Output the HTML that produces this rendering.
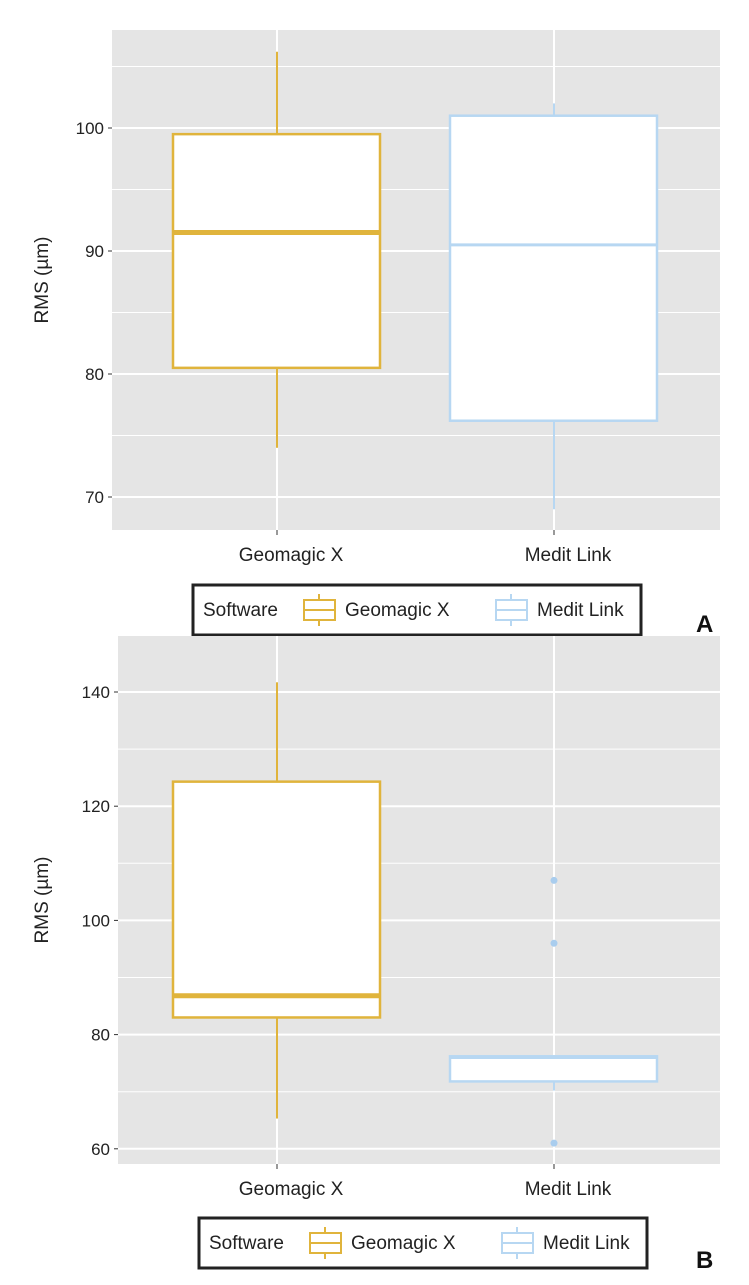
<!DOCTYPE html>
<html><head><meta charset="utf-8"><style>
body{margin:0;background:#fff;font-family:"Liberation Sans",sans-serif}
svg text{font-family:"Liberation Sans",sans-serif}
</style></head><body>
<svg id="s" width="749" height="1280"></svg>
<script>
const categories=["Geomagic X","Medit Link"];
const colors=["#e0b43c","#b7d7f2"];
// Panel A
const aTicks=[70,80,90,100];
const aLow=[74,69], aQ1=[80.5,76.2], aMed=[91.5,90.5], aQ3=[99.5,101], aHigh=[106.2,102];
const aOut=[[],[]];
// Panel B
const bTicks=[60,80,100,120,140];
const bLow=[65.3,70.2], bQ1=[83,71.8], bMed=[86.8,76], bQ3=[124.3,76.2], bHigh=[141.7,76.2];
const bOut=[[],[107,96,61]];

const S=document.getElementById('s');const NS='http://www.w3.org/2000/svg';
function mk(t,a,p,txt){const e=document.createElementNS(NS,t);for(const k in a)e.setAttribute(k,a[k]);if(txt!==undefined)e.textContent=txt;(p||S).appendChild(e);return e;}
function panel(cfg){
  const g=mk('g',{});
  
  
  const y=v=>cfg.y0-(v-cfg.v0)*cfg.k;
  const xs=[277,554];
  const bg=mk('rect',{x:cfg.L,y:cfg.T,width:cfg.R-cfg.L,height:cfg.B-cfg.T,fill:'#e5e5e5'},g);
  
  const step=cfg.ticks[1]-cfg.ticks[0];
  for(let v=cfg.ticks[0]-step;v<=cfg.ticks[cfg.ticks.length-1]+step;v+=step/2){
    const yy=y(v);if(yy<cfg.T||yy>cfg.B)continue;
    const major=cfg.ticks.includes(v);
    const l=mk('line',{x1:cfg.L,x2:cfg.R,y1:yy,y2:yy,stroke:'#fff','stroke-width':major?2:1},g);
    
  }
  xs.forEach(x=>{const l=mk('line',{x1:x,x2:x,y1:cfg.T,y2:cfg.B,stroke:'#fff','stroke-width':2},g);
    });
  cfg.ticks.forEach(v=>{
    const t=mk('text',{x:cfg.L-8,y:y(v)+6,'text-anchor':'end','font-size':17,fill:'#222'},g,String(v));
    
    mk('line',{x1:cfg.L-4,x2:cfg.L,y1:y(v),y2:y(v),stroke:'#333','stroke-width':1},g);
  });
  categories.forEach((c,i)=>{
    const x=xs[i];
    mk('line',{x1:x,x2:x,y1:cfg.B,y2:cfg.B+5,stroke:'#333'},g);
    const t=mk('text',{x:x+14,y:cfg.B+31,'text-anchor':'middle','font-size':19,fill:'#222'},g,c);
    
    const col=colors[i];
    const w1=mk('line',{x1:x,x2:x,y1:y(cfg.high[i]),y2:y(cfg.q3[i]),stroke:col,'stroke-width':2},g);
    
    const w2=mk('line',{x1:x,x2:x,y1:y(cfg.q1[i]),y2:y(cfg.low[i]),stroke:col,'stroke-width':2},g);
    
    const b=mk('rect',{x:x-104,y:y(cfg.q3[i]),width:207,height:y(cfg.q1[i])-y(cfg.q3[i]),fill:'#fff',stroke:col,'stroke-width':2.5},g);
    
    const m=mk('line',{x1:x-104,x2:x+103,y1:y(cfg.med[i]),y2:y(cfg.med[i]),stroke:col,'stroke-width':i?3:5},g);
    
    cfg.out[i].forEach(v=>{const p=mk('circle',{cx:x,cy:y(v),r:3.5,fill:'#a9cdee'},g);
      });
  });
  const yt=mk('text',{x:0,y:0,transform:`translate(48,${(cfg.T+cfg.B)/2}) rotate(-90)`,'text-anchor':'middle','font-size':19,fill:'#222'},g,'RMS (µm)');
  
  const lg=mk('g',{},g);
  
  const lx=cfg.lx,ly=cfg.ly;
  mk('rect',{x:lx,y:ly,width:448,height:50,fill:'#fff',stroke:'#222','stroke-width':3},lg);
  mk('text',{x:lx+10,y:ly+31,'font-size':19,fill:'#222'},lg,'Software');
  [[lx+110,'Geomagic X',colors[0]],[lx+302,'Medit Link',colors[1]]].forEach(([x,t,col])=>{
    const e=mk('g',{},lg);
    mk('line',{x1:x+16,x2:x+16,y1:ly+9,y2:ly+41,stroke:col,'stroke-width':2},e);
    mk('rect',{x:x+1,y:ly+15,width:31,height:20,fill:'#fff',stroke:col,'stroke-width':2},e);
    mk('line',{x1:x+1,x2:x+32,y1:ly+25,y2:ly+25,stroke:col,'stroke-width':2},e);
    mk('text',{x:x+42,y:ly+31,'font-size':19,fill:'#222'},e,t);
  });
  const pl=mk('text',{x:cfg.lab[0],y:cfg.lab[1],'font-size':24,'font-weight':'bold',fill:'#111'},g,cfg.label);
  
}
panel({name:'panel-a',L:112,R:720,T:30,B:530,y0:128,v0:100,k:12.3,ticks:aTicks,low:aLow,q1:aQ1,med:aMed,q3:aQ3,high:aHigh,out:aOut,lx:193,ly:585,lab:[696,632],label:'A'});
panel({name:'panel-b',L:118,R:720,T:636,B:1164,y0:692,v0:140,k:5.71,ticks:bTicks,low:bLow,q1:bQ1,med:bMed,q3:bQ3,high:bHigh,out:bOut,lx:199,ly:1218,lab:[696,1268],label:'B'});
</script>
</body></html>
